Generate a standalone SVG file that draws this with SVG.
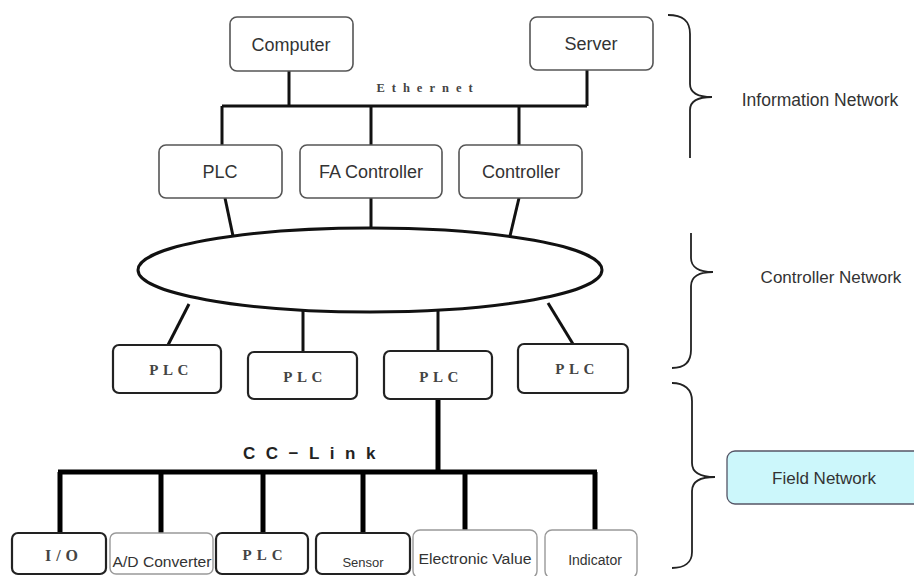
<svg xmlns="http://www.w3.org/2000/svg" width="914" height="576" viewBox="0 0 914 576">
<style>
.box{fill:#fff;stroke:#555;stroke-width:1.6}
.dbox{fill:#fff;stroke:#222;stroke-width:2.2}
.lbox{fill:#fff;stroke:#999;stroke-width:1.4}
.t{font-family:"Liberation Sans",Arial,sans-serif;fill:#333;text-anchor:middle;dominant-baseline:central}
.s{font-family:"Liberation Serif","Times New Roman",serif;font-weight:bold;fill:#444;text-anchor:middle;dominant-baseline:central}
.ln{stroke:#111;stroke-width:3;fill:none}
.tk{stroke:#000;stroke-width:5;fill:none}
.br{stroke:#222;stroke-width:1.8;fill:none}
</style>
<rect width="914" height="576" fill="#fff"/>
<g id="connectors">
<line class="ln" x1="289" y1="71" x2="289" y2="106"/>
<line class="ln" x1="587" y1="70" x2="587" y2="106"/>
<line class="ln" x1="222" y1="106" x2="587" y2="106"/>
<line class="ln" x1="222" y1="106" x2="222" y2="145"/>
<line class="ln" x1="371" y1="106" x2="371" y2="145"/>
<line class="ln" x1="519" y1="106" x2="519" y2="145"/>
<line class="ln" x1="225" y1="198" x2="233" y2="236"/>
<line class="ln" x1="371" y1="198" x2="371" y2="229"/>
<line class="ln" x1="519" y1="198" x2="510" y2="236"/>
<line class="ln" x1="189" y1="304" x2="168" y2="345"/>
<line class="ln" x1="303" y1="310" x2="303" y2="352"/>
<line class="ln" x1="438" y1="310" x2="438" y2="351"/>
<line class="ln" x1="548" y1="303" x2="573" y2="344"/>
<line class="tk" x1="438" y1="399" x2="438" y2="472"/>
<line class="tk" x1="58" y1="472" x2="597" y2="472"/>
<line class="tk" x1="60" y1="472" x2="60" y2="533"/>
<line class="tk" x1="161" y1="472" x2="161" y2="533"/>
<line class="tk" x1="263" y1="472" x2="263" y2="533"/>
<line class="tk" x1="363" y1="472" x2="363" y2="533"/>
<line class="tk" x1="465" y1="472" x2="465" y2="530"/>
<line class="tk" x1="595" y1="472" x2="595" y2="530"/>
</g>
<g id="ethernet-label"><text class="s" x="428" y="88" font-size="12.5" letter-spacing="7" fill="#555">Ethernet</text></g>
<g id="cclink-label"><text x="243" y="459" font-family="'Liberation Sans',Arial,sans-serif" font-weight="bold" font-size="17" fill="#222" letter-spacing="10.5">CC−Link</text></g>
<g id="computer"><rect class="box" x="230" y="17" width="123" height="54" rx="7"/><text class="t" x="291" y="45" font-size="18">Computer</text></g>
<g id="server"><rect class="box" x="530" y="17" width="123" height="53" rx="7"/><text class="t" x="591" y="44" font-size="18">Server</text></g>
<g id="plc-a"><rect class="box" x="159" y="145" width="123" height="53" rx="7"/><text class="t" x="220" y="172" font-size="18">PLC</text></g>
<g id="fa-controller"><rect class="box" x="300" y="145" width="142" height="53" rx="7"/><text class="t" x="371" y="172" font-size="18">FA Controller</text></g>
<g id="controller"><rect class="box" x="459" y="145" width="123" height="53" rx="7"/><text class="t" x="521" y="172" font-size="18">Controller</text></g>
<g id="controller-network"><ellipse cx="370" cy="270" rx="232" ry="42" fill="#fff" stroke="#111" stroke-width="3"/></g>
<g id="plc-1"><rect class="dbox" x="113" y="345" width="108" height="48" rx="6"/><text class="s" x="171" y="370" font-size="15" letter-spacing="4.5">PLC</text></g>
<g id="plc-2"><rect class="dbox" x="248" y="352" width="109" height="47" rx="6"/><text class="s" x="305" y="377" font-size="15" letter-spacing="4.5">PLC</text></g>
<g id="plc-3"><rect class="dbox" x="384" y="351" width="108" height="48" rx="6"/><text class="s" x="441" y="377" font-size="15" letter-spacing="4.5">PLC</text></g>
<g id="plc-4"><rect class="dbox" x="518" y="344" width="110" height="49" rx="6"/><text class="s" x="577" y="369" font-size="15" letter-spacing="4.5">PLC</text></g>
<g id="io"><rect class="dbox" x="12" y="533" width="94" height="41" rx="6"/><text class="s" x="64" y="555" font-size="16" letter-spacing="5">I/O</text></g>
<g id="ad-converter"><rect class="lbox" x="110" y="533" width="103" height="41" rx="6"/><text class="t" x="162" y="562" font-size="14" textLength="99" lengthAdjust="spacingAndGlyphs">A/D Converter</text></g>
<g id="plc-b"><rect class="dbox" x="216" y="533" width="92" height="41" rx="6"/><text class="s" x="265" y="555" font-size="15" letter-spacing="5">PLC</text></g>
<g id="sensor"><rect class="dbox" x="316" y="533" width="94" height="41" rx="6"/><text class="t" x="363" y="562" font-size="13" fill="#555">Sensor</text></g>
<g id="electronic-value"><rect class="lbox" x="413" y="530" width="124" height="48" rx="7"/><text class="t" x="475" y="559" font-size="14" textLength="113" lengthAdjust="spacingAndGlyphs">Electronic Value</text></g>
<g id="indicator"><rect class="lbox" x="545" y="530" width="92" height="48" rx="7"/><text class="t" x="595" y="560" font-size="14" fill="#444">Indicator</text></g>
<g id="braces">
<path class="br" d="M668,15 C682,15 690,20 690,34 L690,84 C690,93 698,97 712,97 C698,97 690,101 690,110 L690,158"/>
<path class="br" d="M691,233 L691,258 C691,267 699,272 713,272 C699,272 691,277 691,286 L691,350 C691,362 684,368 672,368"/>
<path class="br" d="M672,383 C684,383 692,389 692,401 L692,463 C692,472 700,477 715,477 C700,477 692,482 692,491 L692,552 C692,563 684,568 672,568"/>
</g>
<g id="info-label"><text class="t" x="820" y="100" font-size="17.5">Information Network</text></g>
<g id="ctrl-label"><text class="t" x="831" y="277" font-size="17">Controller Network</text></g>
<g id="field-network"><rect x="727" y="451" width="200" height="53" rx="8" fill="#ccf7fb" stroke="#556" stroke-width="1.3"/><text class="t" x="824" y="478" font-size="17">Field Network</text></g>
</svg>
